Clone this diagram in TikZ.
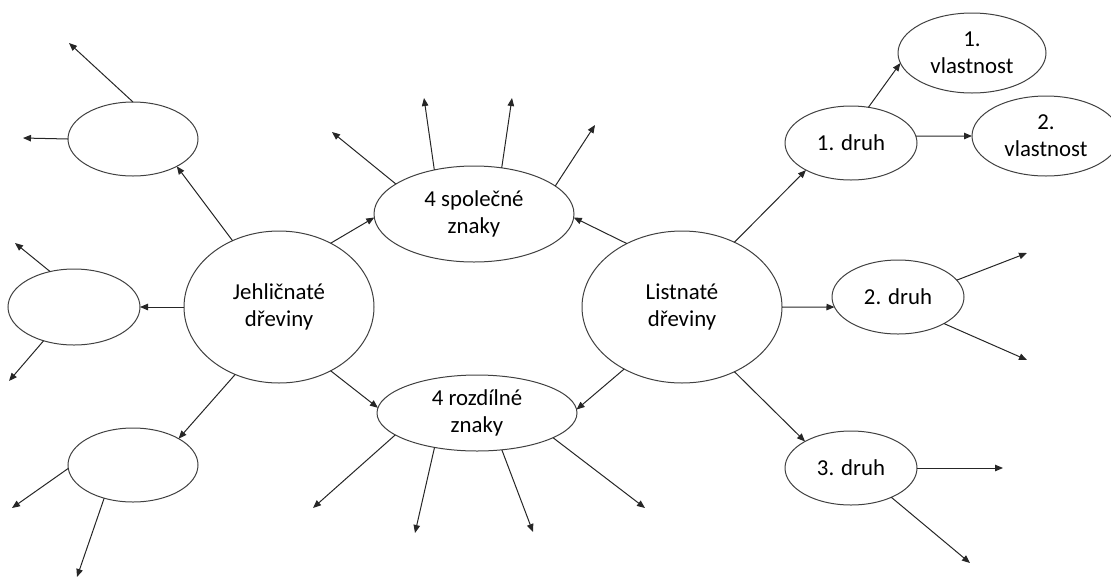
\documentclass[tikz,border=0pt]{standalone}
\usepackage{fontspec}
\setmainfont{Carlito}
\usetikzlibrary{arrows.meta,shapes.geometric}
\begin{document}
\begin{tikzpicture}[x=1pt,y=-1pt,
  bub/.style={ellipse, draw=black!75, line width=1pt, inner sep=0pt, outer sep=0pt, align=center, font=\fontsize{22.8}{27}\selectfont},
  arr/.style={-{Triangle[length=8pt,width=6.5pt]}, line width=1pt, black!85}]
\useasboundingbox (0,0) rectangle (1111,582);
\node[bub, minimum width=190, minimum height=152] (jehl) at (279,307){Jehličnaté\\dřeviny};
\node[bub, minimum width=200, minimum height=152] (list) at (682,307){Listnaté\\dřeviny};
\node[bub, minimum width=200, minimum height=96] (spol) at (474,214){4 společné\\znaky};
\node[bub, minimum width=200, minimum height=76] (rozd) at (477,413){4 rozdílné\\znaky};
\node[bub, minimum width=130, minimum height=74] (tl) at (133,139){};
\node[bub, minimum width=132, minimum height=76] (ml) at (74,307){};
\node[bub, minimum width=130, minimum height=74] (bl) at (133,465){};
\node[bub, minimum width=132, minimum height=74] (druh1) at (851,143){1. druh};
\node[bub, minimum width=132, minimum height=74] (druh2) at (898,297){2. druh};
\node[bub, minimum width=132, minimum height=74] (druh3) at (851,468){3. druh};
\node[bub, minimum width=148, minimum height=80] (vl1) at (972,53){1.\\vlastnost};
\node[bub, minimum width=148, minimum height=80] (vl2) at (1046,136){2.\\vlastnost};
% free ends
\coordinate (tlA) at (69,43);
\coordinate (tlB) at (23,138);
\coordinate (mlA) at (15,243);
\coordinate (mlB) at (9,381);
\coordinate (blA) at (12,508);
\coordinate (blB) at (77,577);
\coordinate (spA) at (332,132);
\coordinate (spB) at (424,98);
\coordinate (spC) at (512,98);
\coordinate (spD) at (595,125);
\coordinate (roA) at (313,508);
\coordinate (roB) at (415,533);
\coordinate (roC) at (533,532);
\coordinate (roD) at (645,508);
\coordinate (d2A) at (1027,253);
\coordinate (d2B) at (1027,360);
\coordinate (d3A) at (1003,468);
\coordinate (d3B) at (970,563);
% Jehlicnate
\draw[arr](jehl.51) -- (spol.182);
\draw[arr](jehl.309) -- (rozd.177);
\draw[arr](jehl.125) -- (tl.328);
\draw[arr](jehl.180) -- (ml.0);
\draw[arr](jehl.237) -- (bl.30);
\draw[arr](tl.90) -- (tlA);
\draw[arr](tl.180) -- (tlB);
\draw[arr](ml.124) -- (mlA);
\draw[arr](ml.228) -- (mlB);
\draw[arr](bl.183) -- (blA);
\draw[arr](bl.229) -- (blB);
% znaky
\draw[arr](spol.159) -- (spA);
\draw[arr](spol.132) -- (spB);
\draw[arr](spol.59) -- (spC);
\draw[arr](spol.19) -- (spD);
\draw[arr](rozd.195) -- (roA);
\draw[arr](rozd.219) -- (roB);
\draw[arr](rozd.304) -- (roC);
\draw[arr](rozd.342) -- (roD);
% Listnate
\draw[arr](list.131) -- (spol.358);
\draw[arr](list.227) -- (rozd.2);
\draw[arr](list.51) -- (druh1.211);
\draw[arr](list.0) -- (druh2.189);
\draw[arr](list.309) -- (druh3.150);
\draw[arr](druh1.64) -- (vl1.188);
\draw[arr](druh1.6) -- (vl2.180);
\draw[arr](druh2.16) -- (d2A);
\draw[arr](druh2.330) -- (d2B);
\draw[arr](druh3.0) -- (d3A);
\draw[arr](druh3.324) -- (d3B);
\end{tikzpicture}
\end{document}
